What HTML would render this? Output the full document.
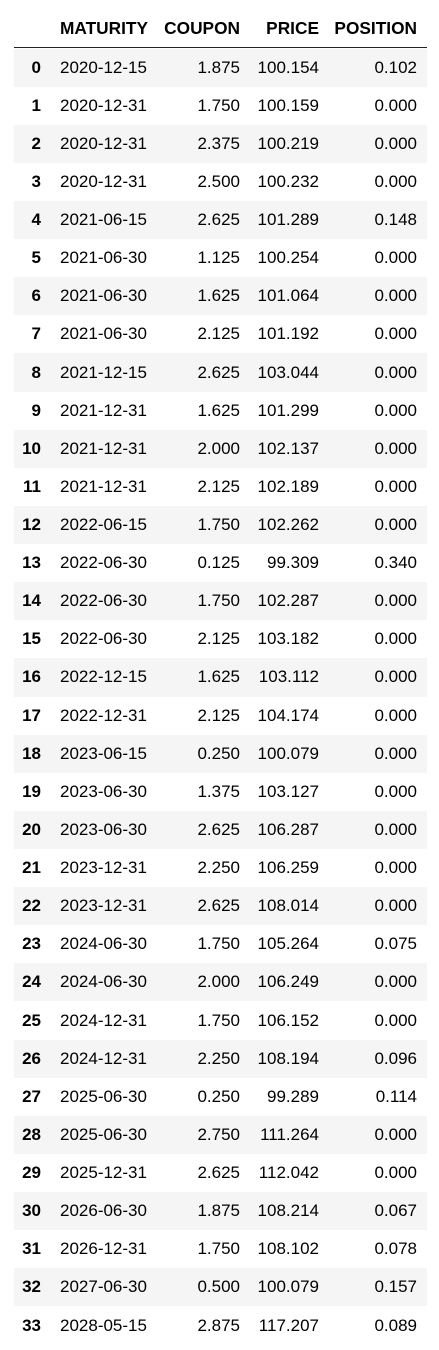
<!DOCTYPE html>
<html><head><meta charset="utf-8"><style>
body{margin:0;background:#fff;width:439px;height:1350px;overflow:hidden;font-family:"Liberation Sans",Arial,sans-serif;color:#000;position:relative}
.row{position:absolute;left:14px;width:413px;height:38.12px;font-size:17px}
.row.odd{background:#f5f5f5}
.cell{position:absolute;top:0;height:100%;display:flex;align-items:center;justify-content:flex-end;box-sizing:border-box}
.c0{left:0;width:27px;font-weight:bold}
.c1{left:41px;width:119px;justify-content:flex-start;padding-left:5px}
.c2{left:146px;width:80px}
.c3{left:226px;width:79px}
.c4{left:305px;width:98px}
.hdr{top:0;height:47px;border-bottom:1.5px solid #222;font-weight:bold;font-size:17.3px}
.hdr .cell{padding-top:10px}
</style></head><body>
<div class="row hdr">
<div class="cell c1">MATURITY</div>
<div class="cell c2">COUPON</div>
<div class="cell c3">PRICE</div>
<div class="cell c4">POSITION</div>
</div>
<div id="tb"></div>
<script>
const maturity=["2020-12-15","2020-12-31","2020-12-31","2020-12-31","2021-06-15","2021-06-30","2021-06-30","2021-06-30","2021-12-15","2021-12-31","2021-12-31","2021-12-31","2022-06-15","2022-06-30","2022-06-30","2022-06-30","2022-12-15","2022-12-31","2023-06-15","2023-06-30","2023-06-30","2023-12-31","2023-12-31","2024-06-30","2024-06-30","2024-12-31","2024-12-31","2025-06-30","2025-06-30","2025-12-31","2026-06-30","2026-12-31","2027-06-30","2028-05-15"];
const coupon=["1.875","1.750","2.375","2.500","2.625","1.125","1.625","2.125","2.625","1.625","2.000","2.125","1.750","0.125","1.750","2.125","1.625","2.125","0.250","1.375","2.625","2.250","2.625","1.750","2.000","1.750","2.250","0.250","2.750","2.625","1.875","1.750","0.500","2.875"];
const price=["100.154","100.159","100.219","100.232","101.289","100.254","101.064","101.192","103.044","101.299","102.137","102.189","102.262","99.309","102.287","103.182","103.112","104.174","100.079","103.127","106.287","106.259","108.014","105.264","106.249","106.152","108.194","99.289","111.264","112.042","108.214","108.102","100.079","117.207"];
const position=["0.102","0.000","0.000","0.000","0.148","0.000","0.000","0.000","0.000","0.000","0.000","0.000","0.000","0.340","0.000","0.000","0.000","0.000","0.000","0.000","0.000","0.000","0.000","0.075","0.000","0.000","0.096","0.114","0.000","0.000","0.067","0.078","0.157","0.089"];
const tb=document.getElementById('tb');
maturity.forEach((m,i)=>{
const tr=document.createElement('div');
tr.className='row'+(i%2===0?' odd':'');
tr.style.top=(48.5+i*38.12)+'px';


const vals=[i,m,coupon[i],price[i],position[i]];
const names=['index','maturity','coupon','price','position'];
vals.forEach((v,j)=>{
const td=document.createElement('div');
td.className='cell c'+j;
td.textContent=v;


tr.appendChild(td);});
tb.appendChild(tr);});
</script></body></html>
